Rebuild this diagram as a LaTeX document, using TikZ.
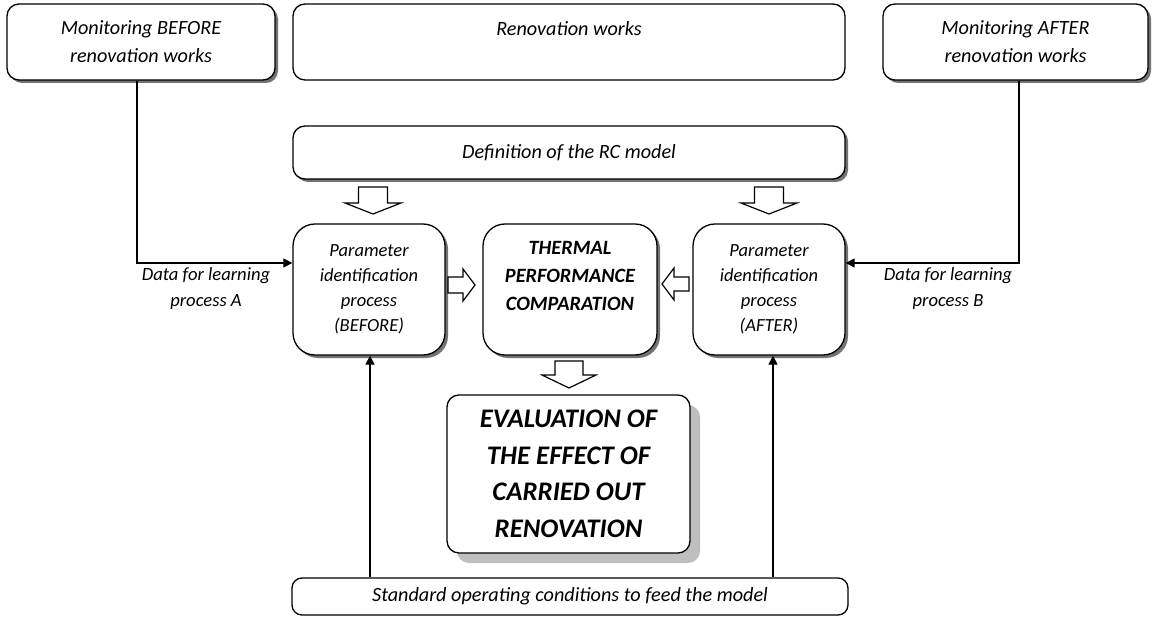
\documentclass[tikz,border=0pt]{standalone}
\usepackage{fontspec}
\setmainfont{Carlito}
\usetikzlibrary{shadows,arrows.meta}
\tikzset{
  box/.style={draw=black, line width=1.3pt, fill=white, rounded corners=12pt, align=center,
    font=\itshape\fontsize{20.2}{28}\selectfont, inner sep=0pt},
  sh/.style={drop shadow={shadow xshift=3pt, shadow yshift=-3pt, fill=black!55, opacity=1}},
  bigsh/.style={drop shadow={shadow xshift=10pt, shadow yshift=-10pt, fill=black!25, opacity=1}},
  conn/.style={line width=1.3pt, -{Triangle[length=9pt,width=9pt]}},
  blk/.style={draw=black, line width=1.2pt, fill=white, line join=miter},
  lbl/.style={font=\itshape\fontsize{18.6}{26}\selectfont, align=center},
}
\begin{document}
\begin{tikzpicture}[x=1pt,y=-1pt]
\useasboundingbox (0,0) rectangle (1154,620);
% top boxes
\node[box, sh, minimum width=268pt, minimum height=76pt] (monB) at (141,42) {Monitoring BEFORE\\renovation works};
\node[box, minimum width=552pt, minimum height=76pt] (ren) at (569,42) {Renovation works\\~};
\node[box, sh, minimum width=265pt, minimum height=76pt] (monA) at (1015.5,42) {Monitoring AFTER\\renovation works};
\node[box, sh, minimum width=552pt, minimum height=53pt] (def) at (569,152.5) {Definition of the RC model};
% middle row
\node[box, sh, rounded corners=22pt, minimum width=152pt, minimum height=131pt,
      font=\itshape\fontsize{18.5}{25}\selectfont] (pB) at (369,289.5) {Parameter\\identification\\process\\(BEFORE)};
\node[box, sh, rounded corners=22pt, minimum width=174pt, minimum height=131pt,
      font=\bfseries\itshape\fontsize{20.3}{28}\selectfont] (th) at (570,289.5) {THERMAL\\PERFORMANCE\\COMPARATION\\~};
\node[box, sh, rounded corners=22pt, minimum width=152pt, minimum height=131pt,
      font=\itshape\fontsize{18.5}{25}\selectfont] (pA) at (769,289.5) {Parameter\\identification\\process\\(AFTER)};
% evaluation
\node[box, bigsh, rounded corners=12pt, minimum width=243pt, minimum height=158pt,
      font=\bfseries\itshape\fontsize{26.8}{36.5}\selectfont] (ev) at (568.5,474) {EVALUATION OF\\THE EFFECT OF\\CARRIED OUT\\RENOVATION};
% bottom
\node[box, rounded corners=10pt, minimum width=556pt, minimum height=37pt] (std) at (570,596.5) {Standard operating conditions to feed the model};
% connectors
\coordinate (cB) at (137,263);
\coordinate (cA) at (1019,263);
\draw[conn] (monB.south -| cB) |- (pB.west |- cB);
\draw[conn] (monA.south -| cA) |- (pA.east |- cA);
\node[lbl] (lA) at (206,289) {Data for learning\\process A};
\node[lbl] (lB) at (948,289) {Data for learning\\process B};
\coordinate (uB) at (370,0);
\coordinate (uA) at (773,0);
\draw[conn] (std.north -| uB) -- (pB.south -| uB);
\draw[conn] (std.north -| uA) -- (pA.south -| uA);
% block arrows
\draw[blk] (358.5,187) -- (387.5,187) -- (387.5,203) -- (401,203) -- (373,214) -- (345,203) -- (358.5,203) -- cycle;
\draw[blk] (754.5,187) -- (783.5,187) -- (783.5,203) -- (797,203) -- (769,214) -- (741,203) -- (754.5,203) -- cycle;
\draw[blk] (555,361) -- (583,361) -- (583,375) -- (596,375) -- (569,388) -- (542,375) -- (555,375) -- cycle;
\draw[blk] (448,277) -- (463,277) -- (463,269) -- (475,285) -- (463,301) -- (463,293) -- (448,293) -- cycle;
\draw[blk] (689,277) -- (674,277) -- (674,268) -- (662,284) -- (674,300) -- (674,291) -- (689,291) -- cycle;
\end{tikzpicture}
\end{document}
